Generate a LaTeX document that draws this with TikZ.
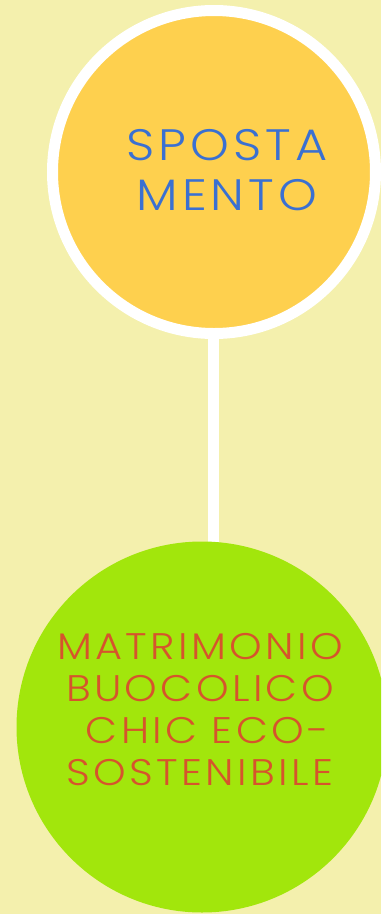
\documentclass[tikz,border=0pt]{standalone}
\usepackage{fontspec}
\newfontfamily\labelfont[LetterSpace=9,FakeStretch=1.12,UprightFont=* Light]{Poppins}
\definecolor{bgcol}{HTML}{F4F0AD}
\definecolor{topcol}{HTML}{FED04E}
\definecolor{botcol}{HTML}{A2E60C}
\definecolor{bluetxt}{HTML}{3A70D2}
\definecolor{redtxt}{HTML}{D6542C}
\tikzset{
  ring/.style={circle, fill=topcol, draw=white, line width=11pt, minimum size=323pt, inner sep=0pt},
  disc/.style={circle, fill=botcol, draw=none, minimum size=371pt, inner sep=0pt},
  link/.style={draw=white, line width=11pt},
  toptext/.style={text=bluetxt, font=\labelfont\fontsize{44}{50}\selectfont, align=center, anchor=base, inner sep=0pt},
  bottext/.style={text=redtxt, font=\labelfont\fontsize{37}{42}\selectfont, align=center, anchor=base, inner sep=0pt}
}
\begin{document}
\begin{tikzpicture}[x=1pt,y=-1pt]
\fill[bgcol] (0,0) rectangle (381,914);
\useasboundingbox (0,0) rectangle (381,914);
\clip (0,0) rectangle (381,914);
\coordinate (linkA) at (213.5,330);
\coordinate (linkB) at (213.5,560);
\draw[link] (linkA) -- (linkB);
\node[disc] (bot) at (202,727) {};
\node[ring] (top) at (214,172) {};
\node[toptext] (toplabel) at (227,210) {SPOSTA\\MENTO};
\node[bottext] (botlabel) at (200,785) {MATRIMONIO\\BUOCOLICO\\\ CHIC ECO-\\SOSTENIBILE};
\end{tikzpicture}
\end{document}
